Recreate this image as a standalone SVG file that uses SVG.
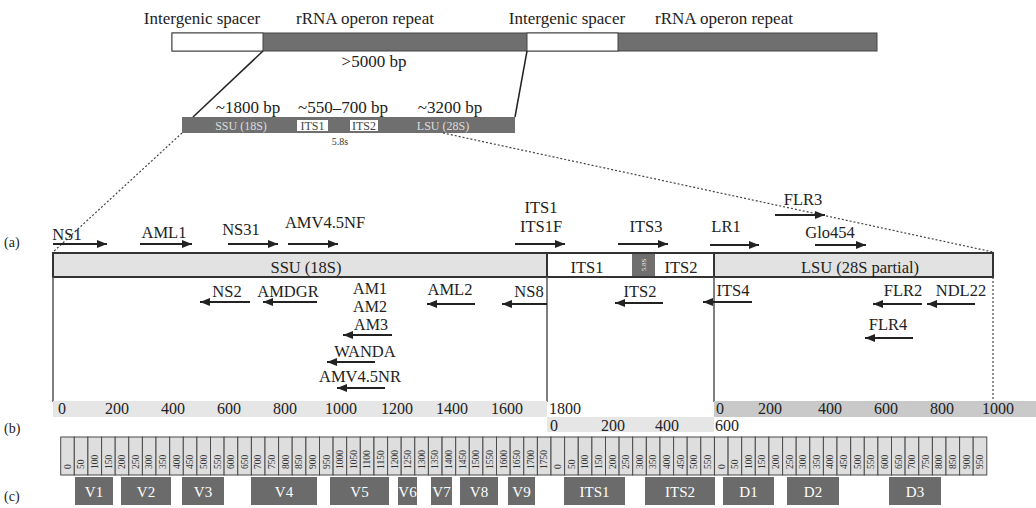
<svg xmlns="http://www.w3.org/2000/svg" width="1036" height="508" viewBox="0 0 1036 508">
<style>
text{font-family:"Liberation Serif","Times New Roman",serif;fill:#222}
.lab{font-size:17px;text-anchor:middle}
.p{font-size:16.5px;text-anchor:middle}
.sc{font-size:16px;text-anchor:middle}
.ar{stroke:#222;stroke-width:2;fill:none;marker-end:url(#ah)}
.dark{fill:#6f6f6f}
.bx{fill:#dedede;stroke:#4a4a4a;stroke-width:1}
.n{font-size:9.5px;fill:#333}
.rg{fill:#6b6b6b}
.rt{font-size:15px;fill:#fff;text-anchor:middle}
.vl{stroke:#555;stroke-width:1.5}
.dot{stroke:#444;stroke-width:1.2;stroke-dasharray:2 2;fill:none}
</style>
<defs>
<marker id="ah" markerUnits="userSpaceOnUse" markerWidth="10" markerHeight="9" viewBox="0 0 10 9" refX="10" refY="4.5" orient="auto">
<path d="M0,0.5 L10,4.5 L0,8.5 z" fill="#222"/>
</marker>
</defs>

<!-- panel letters -->
<text x="4" y="247" style="font-size:14px">(a)</text>
<text x="4" y="433" style="font-size:14px">(b)</text>
<text x="4" y="501" style="font-size:14px">(c)</text>

<!-- top operon bar -->
<g id="operon">
<rect x="172" y="33" width="705" height="18" class="dark" stroke="#444" stroke-width="1"/>
<rect x="172" y="33" width="91" height="18" fill="#fff" stroke="#444" stroke-width="1"/>
<rect x="527" y="33" width="91" height="18" fill="#fff" stroke="#444" stroke-width="1"/>
<text class="lab" x="202" y="24">Intergenic spacer</text>
<text class="lab" x="365" y="24">rRNA operon repeat</text>
<text class="lab" x="567" y="24">Intergenic spacer</text>
<text class="lab" x="724" y="24">rRNA operon repeat</text>
<text class="lab" x="374" y="67">&gt;5000 bp</text>
</g>

<!-- middle repeat bar -->
<g id="repeat">
<rect x="182" y="117" width="333" height="16" class="dark"/>
<rect x="297" y="120" width="31" height="11" fill="#fff"/>
<rect x="350" y="120" width="28" height="11" fill="#fff"/>
<text x="241" y="130" style="font-size:12px;fill:#ddd;text-anchor:middle">SSU (18S)</text>
<text x="312.5" y="130" style="font-size:12px;fill:#444;text-anchor:middle">ITS1</text>
<text x="364" y="130" style="font-size:12px;fill:#444;text-anchor:middle">ITS2</text>
<text x="443" y="130" style="font-size:12px;fill:#ddd;text-anchor:middle">LSU (28S)</text>
<text x="340" y="145" style="font-size:10px;fill:#333;text-anchor:middle">5.8s</text>
<text class="lab" x="248" y="113">~1800 bp</text>
<text class="lab" x="343" y="113">~550–700 bp</text>
<text class="lab" x="450" y="113">~3200 bp</text>
</g>

<!-- main gene bar -->
<g id="gene">
<rect x="53" y="253" width="940" height="24" fill="#e2e2e2" stroke="#333" stroke-width="2"/>
<rect x="547" y="253" width="167" height="24" fill="#fff" stroke="#333" stroke-width="2"/>
<rect x="632" y="254" width="23" height="22" class="dark"/>
<text transform="translate(646,265) rotate(-90)" style="font-size:7px;fill:#eee;text-anchor:middle">5.8S</text>
<text class="p" x="306" y="273">SSU (18S)</text>
<text class="p" x="587" y="273">ITS1</text>
<text class="p" x="681" y="273">ITS2</text>
<text class="p" x="860" y="273">LSU (28S partial)</text>
</g>

<!-- connectors -->
<g id="connectors">
<line x1="263" y1="51" x2="193" y2="117" stroke="#222" stroke-width="1.5"/>
<line x1="527" y1="51" x2="515" y2="117" stroke="#222" stroke-width="1.5"/>
<line x1="182" y1="133" x2="53" y2="252" class="dot"/>
<line x1="443" y1="133" x2="993" y2="252" class="dot"/>
<line x1="993" y1="277" x2="993" y2="402" class="dot"/>
<line x1="53" y1="277" x2="53" y2="402" class="vl"/>
<line x1="547" y1="277" x2="547" y2="402" class="vl"/>
<line x1="714" y1="277" x2="714" y2="402" class="vl"/>
</g>

<!-- forward primers -->
<g id="primers-forward">
<g id="NS1"><text class="p" x="67" y="240">NS1</text><line class="ar" x1="53" y1="244" x2="107" y2="244"/></g>
<g id="AML1"><text class="p" x="164" y="238">AML1</text><line class="ar" x1="140" y1="244" x2="192" y2="244"/></g>
<g id="NS31"><text class="p" x="241" y="235">NS31</text><line class="ar" x1="228" y1="244" x2="278" y2="244"/></g>
<g id="AMV45NF"><text class="p" x="325" y="228">AMV4.5NF</text><line class="ar" x1="288" y1="244" x2="338" y2="244"/></g>
<g id="ITS1F"><text class="p" x="541" y="213">ITS1</text><text class="p" x="541" y="232">ITS1F</text><line class="ar" x1="515" y1="244" x2="565" y2="244"/></g>
<g id="ITS3"><text class="p" x="646" y="232">ITS3</text><line class="ar" x1="618" y1="244" x2="668" y2="244"/></g>
<g id="LR1"><text class="p" x="726" y="232">LR1</text><line class="ar" x1="710" y1="245" x2="759" y2="245"/></g>
<g id="FLR3"><text class="p" x="803" y="205">FLR3</text><line class="ar" x1="775" y1="215" x2="825" y2="215"/></g>
<g id="Glo454"><text class="p" x="830" y="238">Glo454</text><line class="ar" x1="815" y1="245" x2="866" y2="245"/></g>
</g>

<!-- reverse primers -->
<g id="primers-reverse">
<g id="NS2"><text class="p" x="227" y="297">NS2</text><line class="ar" x1="250" y1="302" x2="200" y2="302"/></g>
<g id="AMDGR"><text class="p" x="288" y="297">AMDGR</text><line class="ar" x1="317" y1="302" x2="263" y2="302"/></g>
<g id="AM123"><text class="p" x="370" y="294" style="font-size:16px">AM1</text><text class="p" x="370" y="312" style="font-size:16px">AM2</text><text class="p" x="371" y="330" style="font-size:16px">AM3</text><line class="ar" x1="392" y1="335" x2="343" y2="335"/></g>
<g id="WANDA"><text class="p" x="365" y="357">WANDA</text><line class="ar" x1="375" y1="362" x2="327" y2="362"/></g>
<g id="AMV45NR"><text class="p" x="360" y="382">AMV4.5NR</text><line class="ar" x1="385" y1="388" x2="337" y2="388"/></g>
<g id="AML2"><text class="p" x="450" y="295">AML2</text><line class="ar" x1="475" y1="304" x2="427" y2="304"/></g>
<g id="NS8"><text class="p" x="529" y="297">NS8</text><line class="ar" x1="547" y1="304" x2="502" y2="304"/></g>
<g id="ITS2p"><text class="p" x="640" y="297">ITS2</text><line class="ar" x1="663" y1="303" x2="615" y2="303"/></g>
<g id="ITS4"><text class="p" x="733" y="296">ITS4</text><line class="ar" x1="752" y1="302" x2="703" y2="302"/></g>
<g id="FLR2"><text class="p" x="903" y="296">FLR2</text><line class="ar" x1="922" y1="304" x2="873" y2="304"/></g>
<g id="NDL22"><text class="p" x="961" y="296">NDL22</text><line class="ar" x1="975" y1="304" x2="927" y2="304"/></g>
<g id="FLR4"><text class="p" x="888" y="330">FLR4</text><line class="ar" x1="913" y1="338" x2="865" y2="338"/></g>
</g>

<!-- scale (b) -->
<g id="scale">
<rect x="53" y="401" width="494" height="16" fill="#e6e6e6"/>
<rect x="714" y="401" width="322" height="16" fill="#c9c9c9"/>
<rect x="547" y="417" width="167" height="15" fill="#e6e6e6"/>
<text class="sc" x="62" y="414">0</text>
<text class="sc" x="117" y="414">200</text>
<text class="sc" x="173" y="414">400</text>
<text class="sc" x="229" y="414">600</text>
<text class="sc" x="285" y="414">800</text>
<text class="sc" x="341" y="414">1000</text>
<text class="sc" x="397" y="414">1200</text>
<text class="sc" x="452" y="414">1400</text>
<text class="sc" x="507" y="414">1600</text>
<text class="sc" x="565" y="414">1800</text>
<text class="sc" x="720" y="414">0</text>
<text class="sc" x="770" y="414">200</text>
<text class="sc" x="830" y="414">400</text>
<text class="sc" x="886" y="414">600</text>
<text class="sc" x="942" y="414">800</text>
<text class="sc" x="998" y="414">1000</text>
<text class="sc" x="554" y="431">0</text>
<text class="sc" x="613" y="431">200</text>
<text class="sc" x="667" y="431">400</text>
<text class="sc" x="727" y="431">600</text>
</g>

<!-- ruler (c) -->
<g id="ruler">
<g>
<rect class="bx" x="60.7" y="437" width="13.6" height="38"/><rect class="bx" x="74.3" y="437" width="13.6" height="38"/><rect class="bx" x="87.9" y="437" width="13.6" height="38"/><rect class="bx" x="101.6" y="437" width="13.6" height="38"/><rect class="bx" x="115.2" y="437" width="13.6" height="38"/><rect class="bx" x="128.8" y="437" width="13.6" height="38"/><rect class="bx" x="142.4" y="437" width="13.6" height="38"/><rect class="bx" x="156.0" y="437" width="13.6" height="38"/><rect class="bx" x="169.7" y="437" width="13.6" height="38"/><rect class="bx" x="183.3" y="437" width="13.6" height="38"/>
<rect class="bx" x="196.9" y="437" width="13.6" height="38"/><rect class="bx" x="210.5" y="437" width="13.6" height="38"/><rect class="bx" x="224.1" y="437" width="13.6" height="38"/><rect class="bx" x="237.8" y="437" width="13.6" height="38"/><rect class="bx" x="251.4" y="437" width="13.6" height="38"/><rect class="bx" x="265.0" y="437" width="13.6" height="38"/><rect class="bx" x="278.6" y="437" width="13.6" height="38"/><rect class="bx" x="292.2" y="437" width="13.6" height="38"/><rect class="bx" x="305.9" y="437" width="13.6" height="38"/><rect class="bx" x="319.5" y="437" width="13.6" height="38"/>
<rect class="bx" x="333.1" y="437" width="13.6" height="38"/><rect class="bx" x="346.7" y="437" width="13.6" height="38"/><rect class="bx" x="360.3" y="437" width="13.6" height="38"/><rect class="bx" x="374.0" y="437" width="13.6" height="38"/><rect class="bx" x="387.6" y="437" width="13.6" height="38"/><rect class="bx" x="401.2" y="437" width="13.6" height="38"/><rect class="bx" x="414.8" y="437" width="13.6" height="38"/><rect class="bx" x="428.4" y="437" width="13.6" height="38"/><rect class="bx" x="442.1" y="437" width="13.6" height="38"/><rect class="bx" x="455.7" y="437" width="13.6" height="38"/>
<rect class="bx" x="469.3" y="437" width="13.6" height="38"/><rect class="bx" x="482.9" y="437" width="13.6" height="38"/><rect class="bx" x="496.5" y="437" width="13.6" height="38"/><rect class="bx" x="510.2" y="437" width="13.6" height="38"/><rect class="bx" x="523.8" y="437" width="13.6" height="38"/><rect class="bx" x="537.4" y="437" width="13.6" height="38"/><rect class="bx" x="551.0" y="437" width="13.6" height="38"/><rect class="bx" x="564.6" y="437" width="13.6" height="38"/><rect class="bx" x="578.3" y="437" width="13.6" height="38"/><rect class="bx" x="591.9" y="437" width="13.6" height="38"/>
<rect class="bx" x="605.5" y="437" width="13.6" height="38"/><rect class="bx" x="619.1" y="437" width="13.6" height="38"/><rect class="bx" x="632.7" y="437" width="13.6" height="38"/><rect class="bx" x="646.4" y="437" width="13.6" height="38"/><rect class="bx" x="660.0" y="437" width="13.6" height="38"/><rect class="bx" x="673.6" y="437" width="13.6" height="38"/><rect class="bx" x="687.2" y="437" width="13.6" height="38"/><rect class="bx" x="700.8" y="437" width="13.6" height="38"/><rect class="bx" x="714.5" y="437" width="13.6" height="38"/><rect class="bx" x="728.1" y="437" width="13.6" height="38"/>
<rect class="bx" x="741.7" y="437" width="13.6" height="38"/><rect class="bx" x="755.3" y="437" width="13.6" height="38"/><rect class="bx" x="768.9" y="437" width="13.6" height="38"/><rect class="bx" x="782.6" y="437" width="13.6" height="38"/><rect class="bx" x="796.2" y="437" width="13.6" height="38"/><rect class="bx" x="809.8" y="437" width="13.6" height="38"/><rect class="bx" x="823.4" y="437" width="13.6" height="38"/><rect class="bx" x="837.0" y="437" width="13.6" height="38"/><rect class="bx" x="850.7" y="437" width="13.6" height="38"/><rect class="bx" x="864.3" y="437" width="13.6" height="38"/>
<rect class="bx" x="877.9" y="437" width="13.6" height="38"/><rect class="bx" x="891.5" y="437" width="13.6" height="38"/><rect class="bx" x="905.1" y="437" width="13.6" height="38"/><rect class="bx" x="918.8" y="437" width="13.6" height="38"/><rect class="bx" x="932.4" y="437" width="13.6" height="38"/><rect class="bx" x="946.0" y="437" width="13.6" height="38"/><rect class="bx" x="959.6" y="437" width="13.6" height="38"/><rect class="bx" x="973.2" y="437" width="13.6" height="38"/>
</g>
<g>
<text class="n" transform="translate(70.7,469) rotate(-90)">0</text><text class="n" transform="translate(84.3,469) rotate(-90)">50</text><text class="n" transform="translate(97.9,469) rotate(-90)">100</text><text class="n" transform="translate(111.6,469) rotate(-90)">150</text><text class="n" transform="translate(125.2,469) rotate(-90)">200</text><text class="n" transform="translate(138.8,469) rotate(-90)">250</text><text class="n" transform="translate(152.4,469) rotate(-90)">300</text><text class="n" transform="translate(166.0,469) rotate(-90)">350</text><text class="n" transform="translate(179.7,469) rotate(-90)">400</text><text class="n" transform="translate(193.3,469) rotate(-90)">450</text>
<text class="n" transform="translate(206.9,469) rotate(-90)">500</text><text class="n" transform="translate(220.5,469) rotate(-90)">550</text><text class="n" transform="translate(234.1,469) rotate(-90)">600</text><text class="n" transform="translate(247.8,469) rotate(-90)">650</text><text class="n" transform="translate(261.4,469) rotate(-90)">700</text><text class="n" transform="translate(275.0,469) rotate(-90)">750</text><text class="n" transform="translate(288.6,469) rotate(-90)">800</text><text class="n" transform="translate(302.2,469) rotate(-90)">850</text><text class="n" transform="translate(315.9,469) rotate(-90)">900</text><text class="n" transform="translate(329.5,469) rotate(-90)">950</text>
<text class="n" transform="translate(343.1,469) rotate(-90)">1000</text><text class="n" transform="translate(356.7,469) rotate(-90)">1050</text><text class="n" transform="translate(370.3,469) rotate(-90)">1100</text><text class="n" transform="translate(384.0,469) rotate(-90)">1150</text><text class="n" transform="translate(397.6,469) rotate(-90)">1200</text><text class="n" transform="translate(411.2,469) rotate(-90)">1250</text><text class="n" transform="translate(424.8,469) rotate(-90)">1300</text><text class="n" transform="translate(438.4,469) rotate(-90)">1350</text><text class="n" transform="translate(452.1,469) rotate(-90)">1400</text><text class="n" transform="translate(465.7,469) rotate(-90)">1450</text>
<text class="n" transform="translate(479.3,469) rotate(-90)">1500</text><text class="n" transform="translate(492.9,469) rotate(-90)">1550</text><text class="n" transform="translate(506.5,469) rotate(-90)">1600</text><text class="n" transform="translate(520.2,469) rotate(-90)">1650</text><text class="n" transform="translate(533.8,469) rotate(-90)">1700</text><text class="n" transform="translate(547.4,469) rotate(-90)">1750</text>
<text class="n" transform="translate(561.0,469) rotate(-90)">0</text><text class="n" transform="translate(574.6,469) rotate(-90)">50</text><text class="n" transform="translate(588.3,469) rotate(-90)">100</text><text class="n" transform="translate(601.9,469) rotate(-90)">150</text><text class="n" transform="translate(615.5,469) rotate(-90)">200</text><text class="n" transform="translate(629.1,469) rotate(-90)">250</text><text class="n" transform="translate(642.7,469) rotate(-90)">300</text><text class="n" transform="translate(656.4,469) rotate(-90)">350</text><text class="n" transform="translate(670.0,469) rotate(-90)">400</text><text class="n" transform="translate(683.6,469) rotate(-90)">450</text><text class="n" transform="translate(697.2,469) rotate(-90)">500</text><text class="n" transform="translate(710.8,469) rotate(-90)">550</text>
<text class="n" transform="translate(724.5,469) rotate(-90)">0</text><text class="n" transform="translate(738.1,469) rotate(-90)">50</text><text class="n" transform="translate(751.7,469) rotate(-90)">100</text><text class="n" transform="translate(765.3,469) rotate(-90)">150</text><text class="n" transform="translate(778.9,469) rotate(-90)">200</text><text class="n" transform="translate(792.6,469) rotate(-90)">250</text><text class="n" transform="translate(806.2,469) rotate(-90)">300</text><text class="n" transform="translate(819.8,469) rotate(-90)">350</text><text class="n" transform="translate(833.4,469) rotate(-90)">400</text><text class="n" transform="translate(847.0,469) rotate(-90)">450</text>
<text class="n" transform="translate(860.7,469) rotate(-90)">500</text><text class="n" transform="translate(874.3,469) rotate(-90)">550</text><text class="n" transform="translate(887.9,469) rotate(-90)">600</text><text class="n" transform="translate(901.5,469) rotate(-90)">650</text><text class="n" transform="translate(915.1,469) rotate(-90)">700</text><text class="n" transform="translate(928.8,469) rotate(-90)">750</text><text class="n" transform="translate(942.4,469) rotate(-90)">800</text><text class="n" transform="translate(956.0,469) rotate(-90)">850</text><text class="n" transform="translate(969.6,469) rotate(-90)">900</text><text class="n" transform="translate(983.2,469) rotate(-90)">950</text>
</g>
</g>

<!-- variable regions -->
<g id="regions">
<g id="V1"><rect class="rg" x="75" y="477" width="38" height="28"/><text class="rt" x="94" y="497">V1</text></g>
<g id="V2"><rect class="rg" x="121" y="477" width="50" height="28"/><text class="rt" x="146" y="497">V2</text></g>
<g id="V3"><rect class="rg" x="182" y="477" width="42" height="28"/><text class="rt" x="203" y="497">V3</text></g>
<g id="V4"><rect class="rg" x="251" y="477" width="66" height="28"/><text class="rt" x="284" y="497">V4</text></g>
<g id="V5"><rect class="rg" x="330" y="477" width="59" height="28"/><text class="rt" x="359.5" y="497">V5</text></g>
<g id="V6"><rect class="rg" x="398" y="477" width="19" height="28"/><text class="rt" x="407.5" y="497">V6</text></g>
<g id="V7"><rect class="rg" x="431" y="477" width="21" height="28"/><text class="rt" x="441.5" y="497">V7</text></g>
<g id="V8"><rect class="rg" x="460" y="477" width="38" height="28"/><text class="rt" x="479" y="497">V8</text></g>
<g id="V9"><rect class="rg" x="508" y="477" width="27" height="28"/><text class="rt" x="521.5" y="497">V9</text></g>
<g id="ITS1r"><rect class="rg" x="564" y="477" width="61" height="28"/><text class="rt" x="594.5" y="497">ITS1</text></g>
<g id="ITS2r"><rect class="rg" x="645" y="477" width="70" height="28"/><text class="rt" x="680" y="497">ITS2</text></g>
<g id="D1"><rect class="rg" x="723" y="477" width="51" height="28"/><text class="rt" x="748.5" y="497">D1</text></g>
<g id="D2"><rect class="rg" x="787" y="477" width="52" height="28"/><text class="rt" x="813" y="497">D2</text></g>
<g id="D3"><rect class="rg" x="889" y="477" width="52" height="28"/><text class="rt" x="915" y="497">D3</text></g>
</g>
</svg>
